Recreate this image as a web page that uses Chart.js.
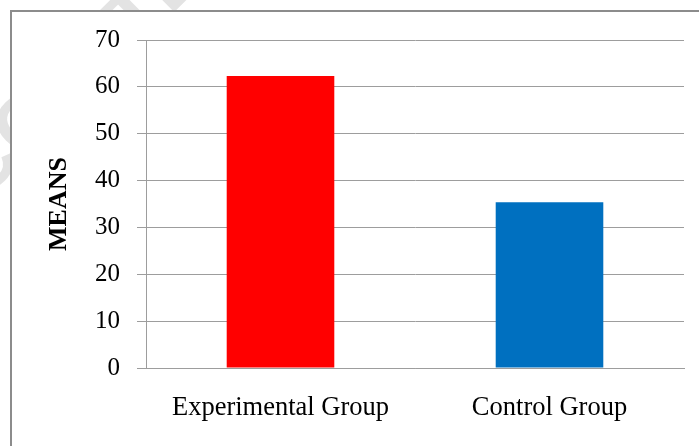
<!DOCTYPE html>
<html>
<head>
<meta charset="utf-8">
<script src="https://cdn.jsdelivr.net/npm/chart.js@4"></script>
<style>
  html, body { margin: 0; padding: 0; background: #ffffff; }
  #wrap { width: 699px; height: 446px; }
</style>
</head>
<body>
<div id="wrap"><canvas id="c" width="699" height="446"></canvas></div>
<script>
// Group means
const categories = ['Experimental Group', 'Control Group'];
const means = [62.3, 35.4];
const barColors = ['#ff0000', '#0070c0'];
const yMin = 0;
const yMax = 70;
const yStep = 10;

const serif = "'Liberation Serif', 'Times New Roman', serif";
const gridGray = '#9d9d9d';

// Page background, faint watermark in the margin, and the grey frame
const framePlugin = {
  id: 'frame',
  beforeDraw(chart) {
    const ctx = chart.ctx;
    const W = chart.width, H = chart.height;
    ctx.save();
    ctx.fillStyle = '#ffffff';
    ctx.fillRect(0, 0, W, H);

    ctx.translate(80, 75);
    ctx.rotate(-0.78);
    ctx.fillStyle = '#e3e3e3';
    ctx.font = "bold 78px 'Liberation Sans', Arial, sans-serif";
    ctx.textAlign = 'center';
    ctx.textBaseline = 'middle';
    ctx.fillText('ACCEPTED', 0, 0);
    ctx.setTransform(1, 0, 0, 1, 0, 0);

    ctx.fillStyle = '#ffffff';
    ctx.fillRect(11, 11, W - 11, H - 11);
    ctx.strokeStyle = '#8c8c8c';
    ctx.lineWidth = 2;
    ctx.beginPath();
    ctx.moveTo(11, H);
    ctx.lineTo(11, 11);
    ctx.lineTo(W, 11);
    ctx.stroke();
    ctx.restore();
  }
};

new Chart(document.getElementById('c'), {
  type: 'bar',
  data: {
    labels: categories,
    datasets: [{
      label: 'MEANS',
      data: means,
      backgroundColor: barColors,
      borderWidth: 0,
      categoryPercentage: 1.0,
      barPercentage: 0.4
    }]
  },
  options: {
    responsive: false,
    animation: false,
    devicePixelRatio: 1,
    layout: { padding: { left: 0, right: 15, top: 40, bottom: 0 } },
    plugins: {
      legend: { display: false },
      tooltip: { enabled: false },
      title: { display: false }
    },
    scales: {
      x: {
        grid: { display: false, drawTicks: false },
        border: { display: true, color: gridGray, width: 1 },
        ticks: {
          color: '#000000',
          padding: 24,
          maxRotation: 0,
          font: { family: serif, size: 26.5 }
        },
        afterFit(scale) { scale.height = 78; }
      },
      y: {
        min: yMin,
        max: yMax,
        grid: {
          color: gridGray,
          lineWidth: 1,
          drawTicks: true,
          tickLength: 9
        },
        border: { display: true, color: gridGray, width: 1 },
        ticks: {
          stepSize: yStep,
          color: '#000000',
          padding: 17,
          font: { family: serif, size: 25 }
        },
        title: {
          display: true,
          text: 'MEANS',
          color: '#000000',
          padding: { top: 44, bottom: 0 },
          font: { family: serif, size: 26, weight: 'bold' }
        },
        afterFit(scale) { scale.width = 146; }
      }
    }
  },
  plugins: [framePlugin]
});
</script>
</body>
</html>
